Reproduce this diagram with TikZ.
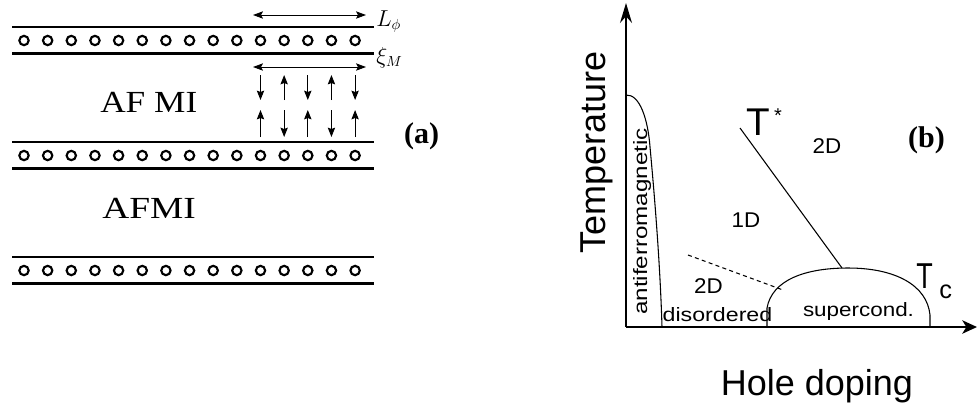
\documentclass[tikz,border=0pt]{standalone}
\usepackage{fontspec}
\setmainfont{Liberation Serif}
\newfontfamily\sansfam{Liberation Sans}
\usetikzlibrary{arrows.meta}
\begin{document}
\begin{tikzpicture}[x=0.75pt,y=-0.75pt,
  layer/.style={line width=1.7pt},
  hole/.style={circle,draw,line width=1.6pt,inner sep=0pt,minimum size=7pt},
  spin/.style={line width=0.75pt,-{Stealth[length=7pt,width=5.5pt,inset=1pt]}},
  spanarrow/.style={line width=0.6pt,{Stealth[length=7.5pt,width=5.5pt,inset=1.5pt]}-{Stealth[length=7.5pt,width=5.5pt,inset=1.5pt]}},
  curve/.style={line width=0.8pt},
  lbl/.style={inner sep=0pt,font=\sansfam\fontsize{14.5pt}{16pt}\selectfont},
  dimlbl/.style={inner sep=0pt,font=\sansfam\fontsize{16pt}{18pt}\selectfont},
  big/.style={inner sep=0pt,font=\sansfam\fontsize{27pt}{30pt}\selectfont},
  tag/.style={inner sep=0pt,font=\bfseries\fontsize{22.5pt}{24pt}\selectfont},
  phase/.style={inner sep=0pt,font=\fontsize{23pt}{24pt}\selectfont},
  mlbl/.style={inner sep=0pt,anchor=base west,font=\fontsize{16pt}{18pt}\selectfont}
]
\useasboundingbox (0,0) rectangle (977,405);

% ---------- (a) ----------
\foreach \y/\n in {27/1,142/2,257/3} {
  \draw[layer] (12,\y) -- (374,\y);
  \draw[layer] (12,\y+26.5) -- (374,\y+26.5);
  \foreach \k in {0,...,14}
    \node[hole] (h\n-\k) at (24+23.65*\k,\y+13.5) {};
}

% spin arrows
\foreach \k/\a/\b/\c/\d in {10/75/100/137/110,11/100/75/110/137,12/75/100/137/110,13/100/75/110/137,14/75/100/137/110} {
  \coordinate (s\k a) at (24+23.65*\k,\a);
  \coordinate (s\k b) at (24+23.65*\k,\b);
  \coordinate (s\k c) at (24+23.65*\k,\c);
  \coordinate (s\k d) at (24+23.65*\k,\d);
  \draw[spin] (s\k a) -- (s\k b);
  \draw[spin] (s\k c) -- (s\k d);
}

\coordinate (La) at (253,15);
\coordinate (Lb) at (366,15);
\coordinate (Xa) at (253,67);
\coordinate (Xb) at (366,67);
\draw[spanarrow] (La) -- (Lb);
\draw[spanarrow] (Xa) -- (Xb);
\node[mlbl] (Lphi) at (376,26) {$L_\phi$};
\node[mlbl] (xiM) at (376,63) {$\xi_M$};

\node[phase,anchor=base west] (af1) at (100,112) {\scalebox{1.15}[1]{AF MI}};
\node[phase,anchor=base west] (af2) at (102,218) {\scalebox{1.22}[1]{AFMI}};
\node[tag] (ta) at (421.5,136.5) {(a)};

% ---------- (b) ----------
\coordinate (O) at (626,327);
\coordinate (ytop) at (626,3);
\coordinate (xend) at (977,327);
\draw[line width=1pt,-{Stealth[length=15pt,width=9pt,inset=5pt]}] (O) -- (ytop);
\draw[line width=1.6pt,-{Stealth[length=11pt,width=10pt,inset=3pt]}] (O) -- (xend);

% antiferromagnetic dome
\coordinate (afTop) at (626,95);
\coordinate (afBot) at (662,327);
\draw[curve] (afTop) .. controls (640,94) and (648,120) .. (650,147)
  .. controls (654,190) and (660,260) .. (afBot);

% superconducting dome
\coordinate (scL) at (767,327);
\coordinate (scTop) at (848,268);
\coordinate (scR) at (930,327);
\draw[curve] (scL) -- (767,308) .. controls (772,280) and (805,268) .. (scTop)
  .. controls (895,268) and (927,285) .. (930,315) -- (scR);

% T* line and dashed crossover
\coordinate (Ts) at (740,128);
\coordinate (Te) at (842,268);
\draw[curve] (Ts) -- (Te);
\coordinate (Da) at (688,255);
\coordinate (Db) at (783,290);
\draw[curve,dash pattern=on 3pt off 2.5pt] (Da) -- (Db);

% labels
\node[big,rotate=90,anchor=base] (temp) at (605,152.5) {Temperature};
\node[big,anchor=base] (hole) at (817,395) {Hole doping};
\node[lbl,rotate=90,anchor=base] (afm) at (647,221.5) {\scalebox{1.25}[1]{antiferromagnetic}};
\node[lbl,anchor=base] (dis) at (717.5,321) {\scalebox{1.2}[1]{disordered}};
\node[lbl,anchor=base] (sc) at (858.5,316) {\scalebox{1.16}[1]{supercond.}};
\node[dimlbl,anchor=base] (twoDu) at (827,153) {\scalebox{1.05}[1]{2D}};
\node[dimlbl,anchor=base] (oneD) at (746,227) {\scalebox{1.05}[1]{1D}};
\node[dimlbl,anchor=base] (twoDl) at (708.5,293) {\scalebox{1.05}[1]{2D}};
\node[big,anchor=base west,font=\sansfam\fontsize{29pt}{30pt}\selectfont] (Tstar) at (746,135) {T};
\node[inner sep=0pt,font=\sansfam\fontsize{15pt}{15pt}\selectfont] (star) at (778,116) {*};
\node[big,anchor=base west] (Tc) at (916,288) {\scalebox{0.75}[1]{T}};
\node[inner sep=0pt,anchor=base west,font=\sansfam\fontsize{19pt}{20pt}\selectfont] (csub) at (939,298) {c};
\node[tag] (tb) at (926.5,140) {(b)};
\end{tikzpicture}
\end{document}
